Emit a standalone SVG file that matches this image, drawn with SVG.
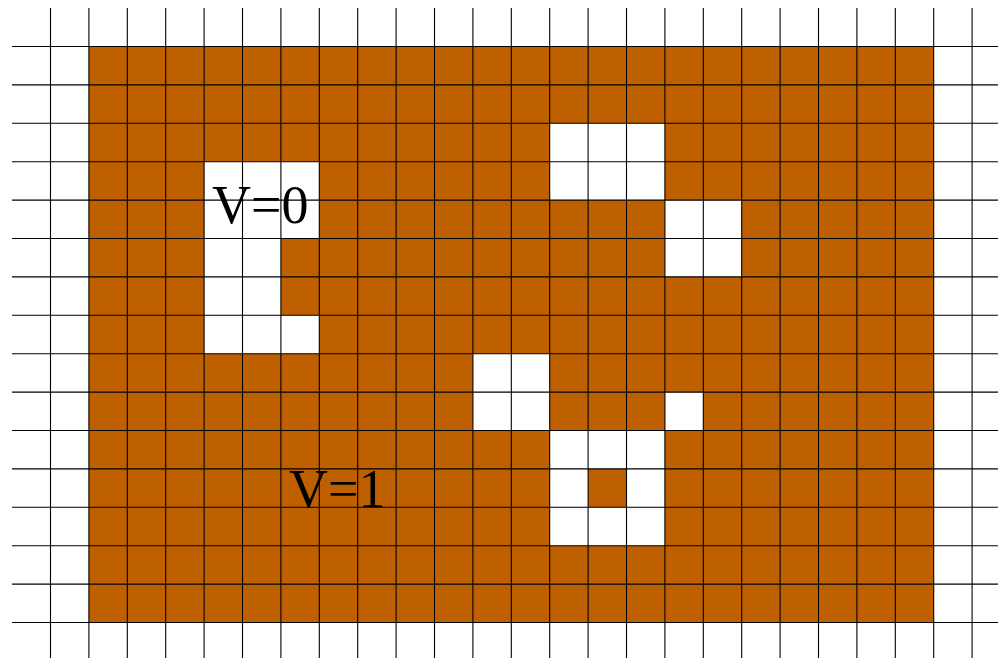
<svg xmlns="http://www.w3.org/2000/svg" width="998" height="658" viewBox="0 0 998 658">
<style>
.bg{fill:#ffffff}
.fill{fill:#bf6000}
.hole{fill:#ffffff}
.grid line{stroke:#000000;stroke-width:1.1}
.lbl{font-family:"Liberation Serif","Times New Roman",serif;font-size:54px;fill:#000000}
</style>
<rect class="bg" x="0" y="0" width="998" height="658"/>
<rect class="fill" x="88.9" y="46.5" width="844.8" height="576"/>
<g id="holes">
<!-- left region -->
<rect class="hole" x="204.1" y="161.7" width="115.2" height="76.8"/>
<rect class="hole" x="204.1" y="238.5" width="76.8" height="76.8"/>
<rect class="hole" x="204.1" y="315.3" width="115.2" height="38.4"/>
<!-- top right -->
<rect class="hole" x="549.7" y="123.3" width="115.2" height="76.8"/>
<rect class="hole" x="664.9" y="200.1" width="76.8" height="76.8"/>
<!-- middle -->
<rect class="hole" x="472.9" y="353.7" width="76.8" height="76.8"/>
<rect class="hole" x="664.9" y="392.1" width="38.4" height="38.4"/>
<!-- ring -->
<rect class="hole" x="549.7" y="430.5" width="115.2" height="38.4"/>
<rect class="hole" x="549.7" y="468.9" width="38.4" height="38.4"/>
<rect class="hole" x="626.5" y="468.9" width="38.4" height="38.4"/>
<rect class="hole" x="549.7" y="507.3" width="115.2" height="38.4"/>
</g>
<g class="grid">
<line x1="50.5" y1="8" x2="50.5" y2="658"/>
<line x1="88.9" y1="8" x2="88.9" y2="658"/>
<line x1="127.3" y1="8" x2="127.3" y2="658"/>
<line x1="165.7" y1="8" x2="165.7" y2="658"/>
<line x1="204.1" y1="8" x2="204.1" y2="658"/>
<line x1="242.5" y1="8" x2="242.5" y2="658"/>
<line x1="280.9" y1="8" x2="280.9" y2="658"/>
<line x1="319.3" y1="8" x2="319.3" y2="658"/>
<line x1="357.7" y1="8" x2="357.7" y2="658"/>
<line x1="396.1" y1="8" x2="396.1" y2="658"/>
<line x1="434.5" y1="8" x2="434.5" y2="658"/>
<line x1="472.9" y1="8" x2="472.9" y2="658"/>
<line x1="511.3" y1="8" x2="511.3" y2="658"/>
<line x1="549.7" y1="8" x2="549.7" y2="658"/>
<line x1="588.1" y1="8" x2="588.1" y2="658"/>
<line x1="626.5" y1="8" x2="626.5" y2="658"/>
<line x1="664.9" y1="8" x2="664.9" y2="658"/>
<line x1="703.3" y1="8" x2="703.3" y2="658"/>
<line x1="741.7" y1="8" x2="741.7" y2="658"/>
<line x1="780.1" y1="8" x2="780.1" y2="658"/>
<line x1="818.5" y1="8" x2="818.5" y2="658"/>
<line x1="856.9" y1="8" x2="856.9" y2="658"/>
<line x1="895.3" y1="8" x2="895.3" y2="658"/>
<line x1="933.7" y1="8" x2="933.7" y2="658"/>
<line x1="972.1" y1="8" x2="972.1" y2="658"/>
<line x1="12" y1="46.5" x2="998" y2="46.5"/>
<line x1="12" y1="84.9" x2="998" y2="84.9"/>
<line x1="12" y1="123.3" x2="998" y2="123.3"/>
<line x1="12" y1="161.7" x2="998" y2="161.7"/>
<line x1="12" y1="200.1" x2="998" y2="200.1"/>
<line x1="12" y1="238.5" x2="998" y2="238.5"/>
<line x1="12" y1="276.9" x2="998" y2="276.9"/>
<line x1="12" y1="315.3" x2="998" y2="315.3"/>
<line x1="12" y1="353.7" x2="998" y2="353.7"/>
<line x1="12" y1="392.1" x2="998" y2="392.1"/>
<line x1="12" y1="430.5" x2="998" y2="430.5"/>
<line x1="12" y1="468.9" x2="998" y2="468.9"/>
<line x1="12" y1="507.3" x2="998" y2="507.3"/>
<line x1="12" y1="545.7" x2="998" y2="545.7"/>
<line x1="12" y1="584.1" x2="998" y2="584.1"/>
<line x1="12" y1="622.5" x2="998" y2="622.5"/>
</g>
<g id="labels">
<text class="lbl" x="212" y="223">V=0</text>
<text class="lbl" x="289" y="507">V=1</text>
</g>
</svg>
